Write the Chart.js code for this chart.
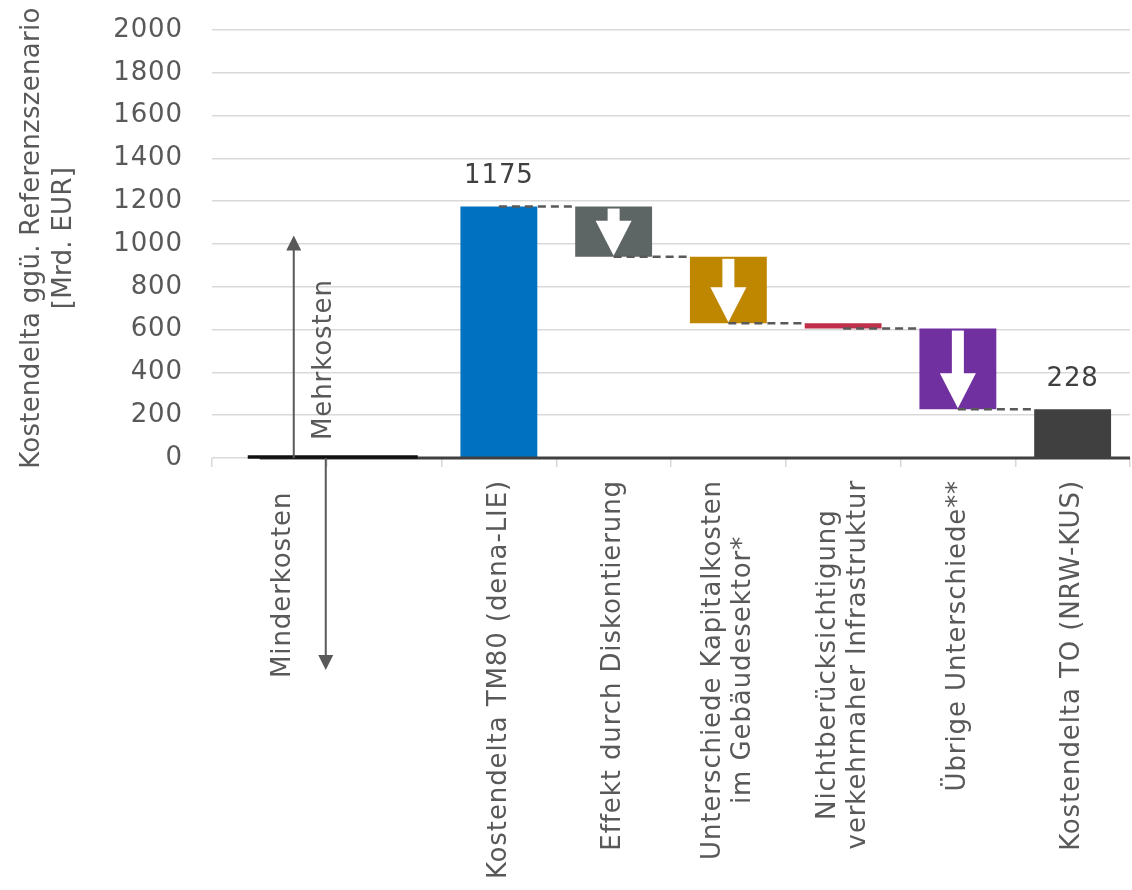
<!DOCTYPE html>
<html>
<head>
<meta charset="utf-8">
<script src="https://cdn.jsdelivr.net/npm/chart.js@4/dist/chart.umd.min.js"></script>
<style>
  body { margin: 0; background: #fff; }
  #wrap { width: 1132px; height: 890px; }
</style>
</head>
<body>
<div id="wrap"><canvas id="chart"></canvas></div>
<script>
// Waterfall: cost delta vs. reference scenario, TM80 (dena-LIE) -> TO (NRW-KUS)
const categories = [
	[""],
	[""],
	["Kostendelta TM80 (dena-LIE)"],
	["Effekt durch Diskontierung"],
	["Unterschiede Kapitalkosten", "im Gebäudesektor*"],
	["Nichtberücksichtigung", "verkehrnaher Infrastruktur"],
	["Übrige Unterschiede**"],
	["Kostendelta TO (NRW-KUS)"]
];
const barStart = [null, null, 0, 940, 630, 605, 228, 0];
const barEnd = [null, null, 1175, 1175, 940, 630, 605, 228];
const yTicks = [0, 200, 400, 600, 800, 1000, 1200, 1400, 1600, 1800, 2000];
const yTitle = ["Kostendelta ggü. Referenzszenario", "[Mrd. EUR]"];
const upLabel = "Mehrkosten";
const downLabel = "Minderkosten";
const upArrowTop = 1040;

const FONT = "DejaVu Sans";
const TEXT = "#595959";
const SPACING = "0.9px";
Chart.defaults.font.family = FONT;
Chart.defaults.font.size = 26;
Chart.defaults.color = TEXT;

const isTotal = (i) => barStart[i] === 0;
const levelAfter = (i) => (isTotal(i) ? barEnd[i] : barStart[i]);

const arrowHead = (ctx, x, tipY, w, h, dir) => {
	ctx.beginPath();
	ctx.moveTo(x, tipY);
	ctx.lineTo(x - w / 2, tipY - dir * h);
	ctx.lineTo(x + w / 2, tipY - dir * h);
	ctx.closePath();
	ctx.fill();
};

const decor = {
	id: "decor",
	beforeDraw(chart) {
		chart.ctx.letterSpacing = SPACING;
	},
	afterDatasetsDraw(chart) {
		const {ctx, scales: {x, y}} = chart;
		const bars = chart.getDatasetMeta(0).data;
		ctx.save();

		// white arrows inside the decreasing steps
		ctx.fillStyle = "#fff";
		for (let i = 0; i < bars.length; i++) {
			if (barStart[i] == null || isTotal(i)) continue;
			const top = y.getPixelForValue(barEnd[i]);
			const bottom = y.getPixelForValue(barStart[i]);
			if (bottom - top < 30) continue;
			const cx = bars[i].x;
			const tip = bottom - 1;
			const headH = 35;
			ctx.fillRect(cx - 6, top + 2, 12, tip - headH - top - 2 + 1);
			arrowHead(ctx, cx, tip, 36, headH, 1);
		}

		// dashed connectors between steps
		ctx.setLineDash([8, 5]);
		ctx.strokeStyle = "#595959";
		ctx.lineWidth = 2.5;
		for (let i = 0; i < bars.length - 1; i++) {
			if (barStart[i] == null || barStart[i + 1] == null) continue;
			const ly = y.getPixelForValue(levelAfter(i));
			ctx.beginPath();
			ctx.moveTo(bars[i].x, ly);
			ctx.lineTo(bars[i + 1].x - bars[i + 1].width / 2, ly);
			ctx.stroke();
		}
		ctx.setLineDash([]);

		// value labels on the totals
		ctx.fillStyle = "#404040";
		ctx.font = `26px '${FONT}'`;
		ctx.letterSpacing = SPACING;
		ctx.textAlign = "center";
		ctx.textBaseline = "middle";
		for (let i = 0; i < bars.length; i++) {
			if (barStart[i] == null || !isTotal(i)) continue;
			ctx.fillText(String(barEnd[i]), bars[i].x, y.getPixelForValue(barEnd[i]) - 30);
		}
		ctx.restore();
	},
	afterDraw(chart) {
		const {ctx, chartArea, scales: {x, y}} = chart;
		const y0 = y.getPixelForValue(0);
		const b = (x.getPixelForValue(0) + x.getPixelForValue(1)) / 2;
		ctx.save();

		// axis line
		ctx.strokeStyle = "#404040";
		ctx.lineWidth = 3;
		ctx.beginPath();
		ctx.moveTo(b - 67, y0);
		ctx.lineTo(chartArea.right, y0);
		ctx.stroke();
		ctx.strokeStyle = "#111";
		ctx.lineWidth = 3.5;
		ctx.beginPath();
		ctx.moveTo(b - 79, y0 - 1);
		ctx.lineTo(b + 91, y0 - 1);
		ctx.stroke();

		// Mehrkosten / Minderkosten arrows
		ctx.strokeStyle = "#595959";
		ctx.fillStyle = "#595959";
		ctx.lineWidth = 2;
		const upX = b - 33;
		const upTip = y.getPixelForValue(upArrowTop);
		ctx.beginPath();
		ctx.moveTo(upX, y0);
		ctx.lineTo(upX, upTip + 12);
		ctx.stroke();
		arrowHead(ctx, upX, upTip, 15, 15, -1);
		const downX = b - 1;
		const downTip = chartArea.bottom + 212;
		ctx.beginPath();
		ctx.moveTo(downX, y0);
		ctx.lineTo(downX, downTip - 12);
		ctx.stroke();
		arrowHead(ctx, downX, downTip, 15, 15, 1);

		ctx.font = `26px '${FONT}'`;
		ctx.letterSpacing = SPACING;
		ctx.textBaseline = "middle";
		ctx.textAlign = "left";
		ctx.save();
		ctx.translate(b - 3, y0 - 18);
		ctx.rotate(-Math.PI / 2);
		ctx.fillText(upLabel, 0, 0);
		ctx.restore();
		ctx.save();
		ctx.translate(b - 44, chartArea.bottom + 220);
		ctx.rotate(-Math.PI / 2);
		ctx.fillText(downLabel, 0, 0);
		ctx.restore();

		// category labels, rotated, lines centred on each other
		const lh = 30;
		const top = chartArea.bottom + 22;
		ctx.textAlign = "center";
		for (let i = 0; i < categories.length; i++) {
			const lines = categories[i];
			const w = Math.max(...lines.map((s) => ctx.measureText(s).width));
			const cx = x.getPixelForValue(i);
			lines.forEach((s, j) => {
				ctx.save();
				ctx.translate(cx + (j - (lines.length - 1) / 2) * lh, top + w / 2);
				ctx.rotate(-Math.PI / 2);
				ctx.fillText(s, 0, 0);
				ctx.restore();
			});
		}

		// y axis title, two centred lines
		ctx.letterSpacing = "0.3px";
		const midY = (chartArea.top + chartArea.bottom) / 2 - 6;
		yTitle.forEach((s, j) => {
			ctx.save();
			ctx.translate(32 + j * 32, midY);
			ctx.rotate(-Math.PI / 2);
			ctx.fillText(s, 0, 0);
			ctx.restore();
		});
		ctx.restore();
	}
};

new Chart(document.getElementById("chart"), {
	type: "bar",
	data: {
		labels: categories,
		datasets: [
			{
				data: barStart.map((s, i) => (s == null ? null : [s, barEnd[i]])),
				backgroundColor: ["#fff", "#fff", "#0070C0", "#5E6665", "#BF8600", "#C0304A", "#7030A0", "#404040"],
				borderWidth: 0,
				barPercentage: 0.67,
				categoryPercentage: 1
			}
		]
	},
	options: {
		responsive: true,
		maintainAspectRatio: false,
		animation: false,
		layout: {padding: {top: 30, right: 2, left: 0, bottom: 0}},
		plugins: {legend: {display: false}, tooltip: {enabled: false}},
		scales: {
			x: {
				ticks: {display: false},
				grid: {display: true, drawOnChartArea: false, drawTicks: true, tickLength: 9, color: "#D9D9D9", lineWidth: 1.5, offset: true},
				border: {display: false},
				afterFit: (s) => { s.height = 432; }
			},
			y: {
				min: 0,
				max: 2000,
				afterBuildTicks: (s) => { s.ticks = yTicks.map((v) => ({value: v})); },
				ticks: {padding: 0, color: TEXT, font: {size: 26}, callback: (v) => String(v)},
				// invisible tick marks keep the labels clear of the plot
				grid: {color: "#D9D9D9", lineWidth: 1.5, drawTicks: true, tickLength: 29, tickColor: "rgba(0,0,0,0)"},
				border: {display: false},
				afterFit: (s) => { s.width = 212; }
			}
		}
	},
	plugins: [decor]
});
</script>
</body>
</html>
